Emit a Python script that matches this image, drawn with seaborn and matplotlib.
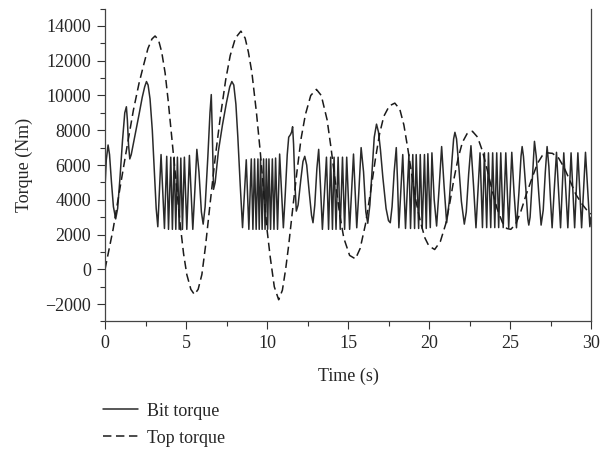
import matplotlib
matplotlib.use("Agg")
import matplotlib.pyplot as plt
import seaborn as sns
from matplotlib.lines import Line2D
from matplotlib.ticker import MultipleLocator

# Bit torque (time in s, torque in Nm)
bit_time = [
    0.00, 0.08, 0.19, 0.28, 0.40, 0.52, 0.66, 0.78, 0.92, 1.08, 1.22, 1.32, 1.38, 1.45, 1.53, 1.62, 1.85, 2.10, 2.30, 2.45,
    2.56, 2.66, 2.78, 2.92, 3.05, 3.16, 3.26,
    3.46, 3.67, 3.81, 3.92, 4.06, 4.16, 4.27, 4.37, 4.47, 4.58, 4.68, 4.78, 4.90, 5.05, 5.21,
    5.42, 5.55, 5.67, 5.80, 5.95, 6.06, 6.18, 6.35, 6.48, 6.56, 6.62, 6.70, 6.80, 7.00, 7.25, 7.50, 7.70, 7.83, 7.95,
    8.08, 8.20, 8.35, 8.49,
    8.72, 8.88, 9.03, 9.13, 9.23, 9.33, 9.44, 9.52, 9.60, 9.70, 9.79, 9.88, 9.96, 10.04, 10.12, 10.22, 10.33, 10.43,
    10.53, 10.65, 10.78,
    11.01, 11.12, 11.25, 11.34, 11.45, 11.52, 11.58, 11.64, 11.72, 11.81, 11.92, 12.08, 12.22, 12.33, 12.45, 12.60,
    12.75, 12.84, 12.95, 13.08, 13.19, 13.30, 13.42,
    13.67, 13.80, 13.93, 14.04, 14.14, 14.26, 14.39, 14.52, 14.66, 14.79, 14.92, 15.10,
    15.34, 15.44, 15.54, 15.66, 15.81, 15.96, 16.10, 16.22, 16.35, 16.50, 16.62, 16.76, 16.88, 17.00, 17.15, 17.35,
    17.50, 17.61, 17.72, 17.85, 17.98, 18.06, 18.14,
    18.38, 18.55, 18.76, 18.86, 19.00, 19.11, 19.21, 19.36, 19.46, 19.58, 19.72, 19.83, 19.93, 20.08,
    20.18, 20.32, 20.47, 20.62, 20.78, 20.93, 21.09, 21.25, 21.42, 21.52, 21.60, 21.70, 21.85, 22.00, 22.18, 22.30,
    22.45, 22.59, 22.75, 22.90,
    23.15, 23.30, 23.42, 23.56, 23.67, 23.81, 23.93, 24.06, 24.18, 24.30, 24.43, 24.58, 24.74, 24.92,
    25.11, 25.25, 25.40, 25.55, 25.68, 25.75, 25.83, 25.98, 26.10, 26.16, 26.24, 26.38, 26.51, 26.62, 26.78, 26.92,
    27.05, 27.18, 27.29, 27.40, 27.50, 27.60, 27.72, 27.87, 28.00, 28.12, 28.32, 28.57, 28.77, 28.99, 29.19, 29.42,
    29.66, 29.93, 30.00,
]
bit_torque = [
    4700, 6300, 7150, 6600, 5000, 3600, 2900, 3500, 5200, 7400, 9000, 9350, 8600, 7200, 6350, 6600, 7700, 8900, 9900, 10500,
    10800, 10600, 9800, 8000, 5500, 3500, 2450,
    6600, 2350, 6500, 2300, 6450, 2300, 6450, 2300, 6450, 2300, 6400, 2300, 6450, 2300, 6550,
    2300, 4600, 6900, 5600, 3300, 2600, 3600, 6500, 9000, 10050, 8000, 4600, 5000, 6800, 8300, 9600, 10500, 10800, 10600,
    9500, 7600, 4800, 2400,
    6300, 2300, 6350, 2300, 6350, 2300, 6350, 2300, 6350, 2300, 6350, 2300, 6350, 2300, 6350, 2300, 6350, 2300,
    6400, 2300, 6630,
    2390, 4200, 6600, 7600, 7750, 7900, 8200, 7200, 5000, 3350, 3700, 5100, 6200, 6500, 6000, 4500,
    3100, 2680, 3700, 5800, 6900, 4800, 2300,
    6450, 2300, 6450, 2300, 6450, 2300, 6450, 2300, 6450, 2300, 6450, 2300,
    6630, 4500, 2390, 4300, 7000, 5600, 3300, 2650, 3700, 5900, 7600, 8350, 7900, 6900, 5300, 3500,
    2800, 2680, 3600, 5600, 7000, 5000, 2390,
    6600, 2350, 6600, 2350, 6600, 2350, 6600, 2350, 6600, 2350, 6600, 2350, 6650, 2400,
    6700, 4000, 2490, 4600, 7060, 4800, 2680, 3900, 6300, 7500, 7880, 7500, 5800, 3900, 2600, 3300,
    5500, 7110, 4800, 2390,
    6700, 2400, 6700, 2400, 6700, 2400, 6700, 2400, 6700, 2400, 6700, 2400, 6700, 2400,
    6730, 4400, 2390, 4400, 6500, 7060, 6500, 4600, 2900, 2545, 3000, 5200, 7360, 6500, 4300, 2545,
    3400, 5600, 7060, 5900, 4000, 2390, 4400, 6730, 4500, 2390, 6700, 2390, 6700, 2390, 6700, 2390,
    6730, 2450, 3000,
]

# Top torque: the slow, damped oscillation at the surface
top_time = [
    0.00, 0.50, 0.93, 1.35, 1.75, 2.10, 2.37, 2.65, 2.90, 3.09, 3.30, 3.50, 3.71, 3.90, 4.12, 4.40, 4.64, 4.85,
    5.05, 5.30, 5.52, 5.75, 5.98, 6.20, 6.49, 6.80, 7.11, 7.45, 7.73, 8.05, 8.39, 8.65, 8.85, 9.07, 9.35, 9.59,
    9.80, 10.00, 10.20, 10.45, 10.72, 10.95, 11.15, 11.34, 11.60, 11.86, 12.10, 12.37, 12.70, 13.05, 13.35, 13.71,
    13.95, 14.22, 14.50, 14.74, 15.10, 15.46, 15.75, 16.08, 16.40, 16.70, 16.95, 17.21, 17.55, 17.89, 18.20, 18.45,
    18.70, 18.96, 19.20, 19.48, 19.75, 19.99, 20.35, 20.70, 21.03, 21.30, 21.54, 21.80, 22.06, 22.35, 22.68, 23.00,
    23.30, 23.60, 23.91, 24.20, 24.53, 24.80, 25.05, 25.35, 25.66, 26.00, 26.38, 26.70, 27.00, 27.30, 27.62, 28.00,
    28.34, 28.70, 29.07, 29.45, 29.79, 30.00,
]
top_torque = [
    0, 2300, 4700, 7000, 9140, 10700, 11700, 12700, 13250, 13420, 13200, 12500, 11300, 9700, 7600, 4900, 2600, 900,
    -300, -1150, -1450, -1150, -300, 1300, 3800, 6400, 8700, 10900, 12300, 13300, 13700, 13300, 12500, 11300, 9000, 6700,
    4400, 2300, 700, -1000, -1750, -1200, 0, 1400, 3600, 5700, 7500, 8900, 10000, 10350, 10000, 8600,
    7000, 5000, 3100, 1800, 800, 600, 1200, 2600, 4500, 6400, 7800, 8800, 9400, 9560, 9200, 8300,
    6900, 5300, 3900, 2700, 1800, 1350, 1140, 1600, 2600, 3900, 5200, 6400, 7300, 7800, 7940, 7600,
    6800, 5700, 4500, 3500, 2700, 2350, 2300, 2600, 3300, 4300, 5300, 6100, 6550, 6700, 6670, 6400,
    5850, 5100, 4300, 3750, 3350, 3180,
]

x_ticks = [0, 5, 10, 15, 20, 25, 30]
y_ticks = [-2000, 0, 2000, 4000, 6000, 8000, 10000, 12000, 14000]

sns.set_style("ticks")
plt.rcParams["font.family"] = ["Liberation Serif", "DejaVu Serif"]

fig = plt.figure(figsize=(6.0, 4.49), dpi=100)
ax = fig.add_axes([0.175, 0.284, 0.81, 0.697])

solid_color = "#2a2a2a"
dash_color = "#1a1a1a"
dash_style = (0, (5.5, 3.0))

sns.lineplot(x=bit_time, y=bit_torque, ax=ax, color=solid_color, linewidth=1.1,
             estimator=None, sort=False)
sns.lineplot(x=top_time, y=top_torque, ax=ax, color=dash_color, linewidth=1.1,
             linestyle=dash_style, estimator=None, sort=False)

ax.set_xlim(0, 30)
ax.set_ylim(-3000, 15000)
ax.set_xticks(x_ticks)
ax.set_yticks(y_ticks)
ax.xaxis.set_minor_locator(MultipleLocator(2.5))
ax.yaxis.set_minor_locator(MultipleLocator(1000))
ax.tick_params(which="major", direction="out", length=6, width=0.8, labelsize=13, pad=4, color="#333333")
ax.tick_params(which="minor", direction="out", length=3.5, width=0.8, color="#333333")

for side in ["left", "bottom", "right"]:
    ax.spines[side].set_linewidth(0.9)
    ax.spines[side].set_color("#444444")
ax.spines["top"].set_visible(False)

ax.set_xlabel("Time (s)", fontsize=13, labelpad=11)
ax.set_ylabel("Torque (Nm)", fontsize=13, labelpad=9)

handles = [
    Line2D([], [], color=solid_color, linewidth=1.1),
    Line2D([], [], color=dash_color, linewidth=1.1, linestyle=dash_style),
]
fig.legend(handles, ["Bit torque", "Top torque"], loc="upper left",
           bbox_to_anchor=(0.172, 0.103), frameon=False, fontsize=13,
           handlelength=1.95, handletextpad=0.45, labelspacing=0.55, borderaxespad=0,
           borderpad=0)

fig.savefig("out.png", dpi=100)
